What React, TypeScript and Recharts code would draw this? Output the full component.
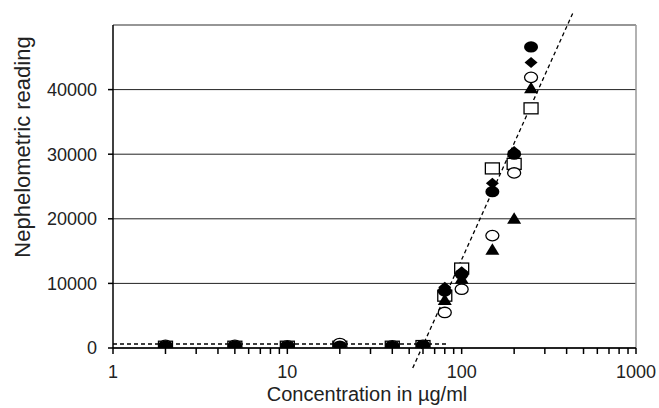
import React from 'react';
import {
  ScatterChart,
  Scatter,
  XAxis,
  YAxis,
  CartesianGrid,
  ReferenceLine,
  Label,
} from 'recharts';

// Concentrations (µg/ml)
const concentrations = [2, 5, 10, 20, 40, 60, 80, 100, 150, 200, 250];

// Nephelometric readings per sample
const filledCircle = [300, 300, 250, 300, 250, 350, 8800, 11400, 24200, 30000, 46600];
const filledDiamond = [200, 200, 200, 200, 200, 300, 9400, 11800, 25500, 30400, 44200];
const openCircle = [400, 400, 350, 700, 350, 400, 5500, 9100, 17400, 27100, 41900];
const filledTriangle = [100, 100, 100, 100, 100, 150, 7500, 10800, 15300, 20100, 40300];
const openSquare = [200, 200, 200, 200, 200, 300, 8100, 12300, 27800, 28500, 37100];

const xTicks = [
  1, 2, 3, 4, 5, 6, 7, 8, 9,
  10, 20, 30, 40, 50, 60, 70, 80, 90,
  100, 200, 300, 400, 500, 600, 700, 800, 900, 1000,
];
const xLabelTicks = [1, 10, 100, 1000];
const yTicks = [0, 10000, 20000, 30000, 40000];

// Fitted lines
const fitLine = [
  { x: 52.4, y: -3100 },
  { x: 435, y: 51900 },
];
const baseLine = [
  { x: 1, y: 620 },
  { x: 82, y: 620 },
];

const toPoints = (vals: number[]) => concentrations.map((c, i) => ({ x: c, y: vals[i] }));

const FONT = '"Liberation Sans", Arial, Helvetica, sans-serif';
const TEXT = '#222';

const FilledCircleShape = (p: any) => (
  <ellipse cx={p.cx} cy={p.cy} rx={7} ry={5.6} fill="#000" />
);
const FilledDiamondShape = (p: any) => (
  <polygon
    points={`${p.cx},${p.cy - 5.5} ${p.cx + 6.5},${p.cy} ${p.cx},${p.cy + 5.5} ${p.cx - 6.5},${p.cy}`}
    fill="#000"
  />
);
const OpenCircleShape = (p: any) => (
  <ellipse cx={p.cx} cy={p.cy} rx={6.5} ry={5.2} fill="#fff" stroke="#000" strokeWidth={1.3} />
);
const TriangleShape = (p: any) => (
  <polygon
    points={`${p.cx},${p.cy - 6} ${p.cx + 7},${p.cy + 5.5} ${p.cx - 7},${p.cy + 5.5}`}
    fill="#000"
  />
);
const SquareShape = (p: any) => (
  <rect x={p.cx - 7} y={p.cy - 5.5} width={14} height={11} fill="#fff" stroke="#000" strokeWidth={1.3} />
);

const XTick = (props: any) => {
  const { x, y, payload } = props;
  if (!xLabelTicks.includes(payload.value)) return <g />;
  return (
    <text x={x} y={y} dy="0.71em" textAnchor="middle" fontSize={18} fill={TEXT} fontFamily={FONT}>
      {payload.value}
    </text>
  );
};

export default function App() {
  return (
    <div style={{ position: 'absolute', left: 0, top: 0, background: '#fff' }}>
      <ScatterChart
        width={659}
        height={408}
        margin={{ top: 25, right: 23, bottom: 0, left: 0 }}
        style={{ fontFamily: FONT }}
      >
        <CartesianGrid horizontal vertical={false} stroke="#222" strokeWidth={1} />
        <XAxis
          dataKey="x"
          type="number"
          scale="log"
          domain={[1, 1000]}
          ticks={xTicks}
          interval={0}
          tick={<XTick />}
          tickSize={6}
          tickMargin={11}
          height={60}
          axisLine={{ stroke: '#000', strokeWidth: 1.5 }}
          tickLine={{ stroke: '#000', strokeWidth: 1.5 }}
          allowDataOverflow
        >
          <Label
            content={() => (
              <text x={367} y={401} textAnchor="middle" fontSize={20} fill={TEXT} fontFamily={FONT}>
                Concentration in µg/ml
              </text>
            )}
          />
        </XAxis>
        <YAxis
          dataKey="y"
          type="number"
          domain={[0, 50000]}
          ticks={yTicks}
          interval={0}
          width={113}
          tickSize={5}
          tickMargin={11}
          tick={{ fontSize: 18, fill: TEXT, fontFamily: FONT }}
          axisLine={{ stroke: '#000', strokeWidth: 1.5 }}
          tickLine={{ stroke: '#000', strokeWidth: 1.5 }}
          allowDataOverflow
        >
          <Label
            content={() => (
              <text
                x={22}
                y={147}
                transform="rotate(-90 22 147)"
                textAnchor="middle"
                dominantBaseline="central"
                fontSize={22}
                fill={TEXT}
                fontFamily={FONT}
              >
                Nephelometric reading
              </text>
            )}
          />
        </YAxis>
        <ReferenceLine y={50000} stroke="#999" strokeWidth={1.5} />
        <ReferenceLine x={1000} stroke="#999" strokeWidth={1.5} />
        <ReferenceLine
          segment={baseLine}
          stroke="#000"
          strokeWidth={1.3}
          strokeDasharray="4 3"
          ifOverflow="visible"
        />
        <ReferenceLine
          segment={fitLine}
          stroke="#000"
          strokeWidth={1.3}
          strokeDasharray="4 3"
          ifOverflow="visible"
        />
        <Scatter data={toPoints(openSquare)} shape={SquareShape} isAnimationActive={false} />
        <Scatter data={toPoints(openCircle)} shape={OpenCircleShape} isAnimationActive={false} />
        <Scatter data={toPoints(filledTriangle)} shape={TriangleShape} isAnimationActive={false} />
        <Scatter data={toPoints(filledDiamond)} shape={FilledDiamondShape} isAnimationActive={false} />
        <Scatter data={toPoints(filledCircle)} shape={FilledCircleShape} isAnimationActive={false} />
      </ScatterChart>
    </div>
  );
}
